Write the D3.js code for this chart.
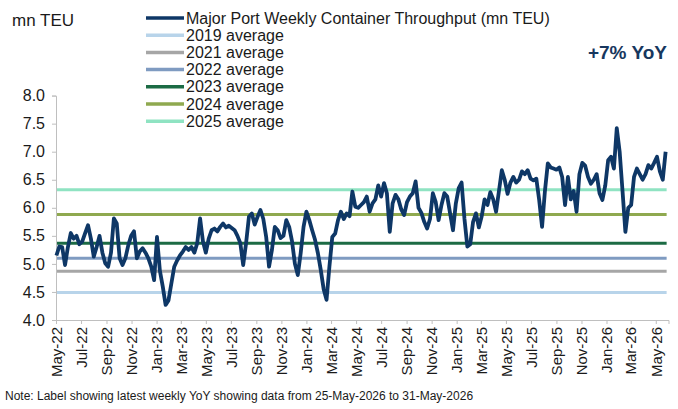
<!DOCTYPE html>
<html>
<head>
<meta charset="utf-8">
<script src="https://cdn.jsdelivr.net/npm/d3@7"></script>
<style>
  body { margin: 0; background: #fff; }
  svg { font-family: "Liberation Sans", Arial, sans-serif; }
</style>
</head>
<body>
<svg id="chart" width="678" height="409"></svg>
<script>
// weekly throughput, mn TEU, first week starting Mon 2 May 2022
const FIRST_WEEK = new Date(2022, 4, 2);
const weekly = [
  5.15, 5.31, 5.30, 4.98, 5.30, 5.55, 5.45, 5.50, 5.35, 5.40,
  5.55, 5.69, 5.45, 5.13, 5.30, 5.50, 5.20, 5.01, 4.95, 5.20,
  5.81, 5.72, 5.10, 4.98, 5.10, 5.33, 5.50, 5.58, 5.10, 5.22,
  5.28, 5.20, 5.10, 4.95, 4.71, 5.48, 4.88, 4.60, 4.27, 4.35,
  4.65, 4.95, 5.06, 5.15, 5.22, 5.30, 5.25, 5.30, 5.20, 5.37,
  5.81, 5.40, 5.20, 5.45, 5.60, 5.63, 5.58, 5.66, 5.72, 5.65,
  5.68, 5.64, 5.60, 5.50, 5.37, 4.98, 5.37, 5.84, 5.90, 5.70,
  5.84, 5.96, 5.80, 5.48, 4.95, 5.25, 5.66, 5.60, 5.46, 5.50,
  5.78, 5.66, 5.40, 5.00, 4.80, 5.19, 5.66, 5.93, 5.78, 5.60,
  5.43, 5.19, 4.89, 4.55, 4.36, 4.95, 5.48, 5.54, 5.78, 5.93,
  5.80, 5.90, 5.85, 6.29, 6.02, 6.00, 6.05, 6.10, 6.20, 5.93,
  6.08, 6.15, 6.40, 6.20, 6.44, 6.26, 5.57, 6.08, 6.23, 6.15,
  5.97, 5.87, 6.10, 6.20, 6.26, 6.47, 6.00, 5.91, 5.75, 5.63,
  5.80, 6.26, 6.10, 5.78, 6.05, 6.26, 6.20, 5.90, 5.60, 6.08,
  6.35, 6.45, 5.80, 5.31, 5.35, 5.75, 5.90, 5.65, 5.85, 6.15,
  6.05, 6.28, 6.15, 5.93, 6.30, 6.67, 6.50, 6.25, 6.45, 6.55,
  6.45, 6.50, 6.65, 6.60, 6.67, 6.52, 6.49, 6.52, 6.14, 5.66,
  6.30, 6.79, 6.72, 6.70, 6.68, 6.72, 6.55, 6.05, 6.55, 6.15,
  6.30, 5.93, 6.60, 6.80, 6.75, 6.55, 6.43, 6.50, 6.60, 6.26,
  6.14, 6.40, 6.85, 6.91, 6.70, 7.42, 7.00, 6.30, 5.57, 6.00,
  6.05, 6.55, 6.70, 6.60, 6.50, 6.60, 6.76, 6.70, 6.80, 6.91,
  6.65, 6.50, 7.00
];

const avgLabels = ['2019 average', '2021 average', '2022 average', '2023 average', '2024 average', '2025 average'];
const avgValues = [4.49, 4.87, 5.10, 5.37, 5.88, 6.32];
const avgColors = ['#b8d4ea', '#a6a6a6', '#7f9bc1', '#1c6b44', '#8fa94f', '#8fe3c2'];

const mainLabel = 'Major Port Weekly Container Throughput (mn TEU)';
const mainColor = '#0e3766';
const yTicks = [4.0, 4.5, 5.0, 5.5, 6.0, 6.5, 7.0, 7.5, 8.0];
const yoyLabel = '+7% YoY';
const noteText = 'Note: Label showing latest weekly YoY showing data from 25-May-2026 to 31-May-2026';

const svg = d3.select('#chart');

let dates = d3.timeMonday.range(FIRST_WEEK, d3.timeDay.offset(FIRST_WEEK, 7 * weekly.length));
let series = weekly.map((v, i) => ({date: dates[i], value: v}));

const x = d3.scaleTime()
  .domain([new Date(2022, 4, 1), new Date(2026, 5, 1)])
  .range([56, 668.5]);
const y = d3.scaleLinear().domain([4, 8]).range([320, 95.6]);

// axes
const yAxis = svg.append('g')
  .attr('transform', 'translate(56,0)')
  .call(d3.axisLeft(y).tickValues(yTicks).tickFormat(d3.format('.1f')).tickSize(4).tickPadding(7));
const xAxis = svg.append('g')
  .attr('transform', 'translate(0,320)')
  .call(d3.axisBottom(x).ticks(d3.timeMonth.every(2)).tickFormat(d3.timeFormat('%b-%y')).tickSize(4));

for (let ax of [yAxis, xAxis]) {
  ax.select('.domain').attr('stroke', '#bfbfbf');
  ax.selectAll('.tick line').attr('stroke', '#bfbfbf');
  ax.selectAll('text').attr('fill', '#1a1a1a')
    .attr('font-family', '"Liberation Sans", Arial, sans-serif');
}
yAxis.selectAll('text').attr('font-size', 16);
xAxis.selectAll('text')
  .attr('font-size', 15)
  .attr('transform', 'rotate(-90)')
  .attr('text-anchor', 'end')
  .attr('x', -7).attr('y', 0).attr('dy', '0.35em');

// average lines
svg.append('g').selectAll('line')
  .data(avgValues)
  .join('line')
  .attr('x1', 57).attr('x2', x(series[series.length - 1].date) + 1)
  .attr('y1', d => y(d)).attr('y2', d => y(d))
  .attr('stroke', (d, i) => avgColors[i])
  .attr('stroke-width', 3);

// weekly line
svg.append('path')
  .datum(series)
  .attr('fill', 'none')
  .attr('stroke', mainColor)
  .attr('stroke-width', 3.8)
  .attr('stroke-linejoin', 'round')
  .attr('d', d3.line().x(d => x(d.date)).y(d => y(d.value)));

// legend
const legendItems = [{label: mainLabel, color: mainColor}]
  .concat(avgLabels.map((l, i) => ({label: l, color: avgColors[i]})));
const legend = svg.append('g').selectAll('g')
  .data(legendItems)
  .join('g')
  .attr('transform', (d, i) => `translate(146,${18 + i * 17.2})`);
legend.append('line')
  .attr('x1', 0).attr('x2', 38)
  .attr('stroke', d => d.color).attr('stroke-width', 3.5);
legend.append('text')
  .attr('x', 40).attr('dy', '0.35em')
  .attr('font-size', 16).attr('fill', '#1a1a1a')
  .text(d => d.label);

svg.append('text')
  .attr('x', 12).attr('y', 26)
  .attr('font-size', 17).attr('fill', '#1a1a1a')
  .text('mn TEU');

svg.append('text')
  .attr('x', 667).attr('y', 59)
  .attr('text-anchor', 'end')
  .attr('font-size', 19).attr('font-weight', 'bold')
  .attr('fill', '#17375e')
  .text(yoyLabel);

svg.append('text')
  .attr('x', 5).attr('y', 400)
  .attr('font-size', 12).attr('fill', '#1a1a1a')
  .text(noteText);
</script>
</body>
</html>
